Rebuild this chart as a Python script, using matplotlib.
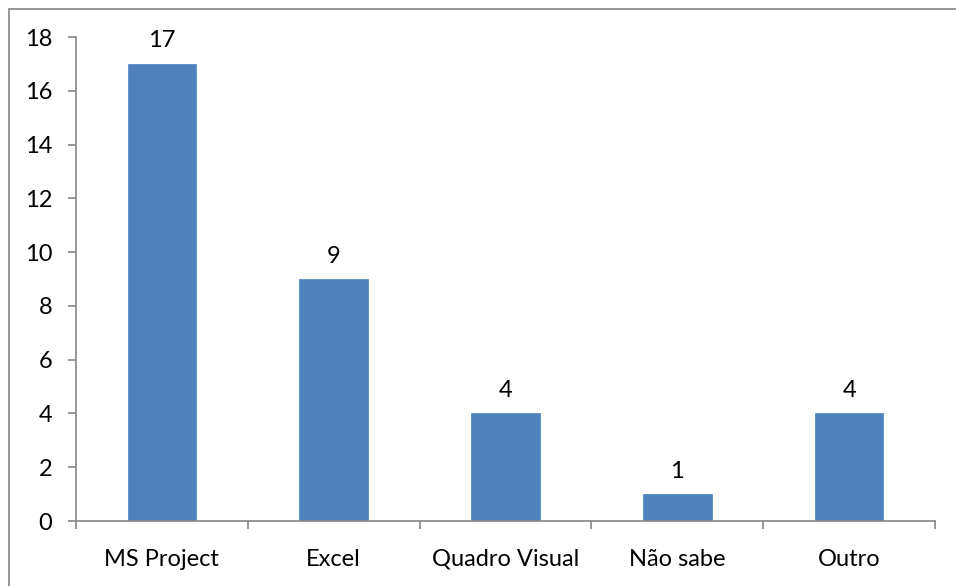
import matplotlib.pyplot as plt
from matplotlib.patches import Rectangle

categories = ["MS Project", "Excel", "Quadro Visual", "Não sabe", "Outro"]
values = [17, 9, 4, 1, 4]
y_ticks = [0, 2, 4, 6, 8, 10, 12, 14, 16, 18]

BAR_COLOR = "#4F81BD"
AXIS_COLOR = "#868686"

plt.rcParams["font.family"] = ["Lato", "DejaVu Sans"]

fig = plt.figure(figsize=(9.56, 5.86), dpi=100)
ax = fig.add_axes([76 / 956, 1 - 521 / 586, (935 - 76) / 956, (521 - 37) / 586])

# outer chart-area frame (right and bottom edges fall outside the image)
fig.patches.append(Rectangle((9 / 956, -0.1), 1.2, 1 - 9 / 586 + 0.1,
                             transform=fig.transFigure, fill=False,
                             edgecolor=AXIS_COLOR, linewidth=1.2))

x = list(range(len(categories)))
ax.bar(x, values, width=0.4, color=BAR_COLOR, edgecolor="#5B8BC4", linewidth=0.6)

for xi, v in zip(x, values):
    ax.annotate(str(v), (xi, v), xytext=(0, 9), textcoords="offset points",
                ha="center", va="bottom", fontsize=17, color="black")

ax.set_xlim(-0.5, len(categories) - 0.5)
ax.set_ylim(0, 18)
ax.set_yticks(y_ticks)
ax.tick_params(axis="y", direction="out", length=6, width=1.2, color=AXIS_COLOR,
               labelsize=17, pad=11)

# category labels centred, tick marks on boundaries
ax.set_xticks(x)
ax.set_xticklabels(categories)
ax.tick_params(axis="x", which="major", length=0, labelsize=17, pad=20)
ax.set_xticks([i - 0.5 for i in range(len(categories) + 1)], minor=True)
ax.tick_params(axis="x", which="minor", direction="out", length=6, width=1.2,
               color=AXIS_COLOR)

for side in ("top", "right"):
    ax.spines[side].set_visible(False)
for side in ("left", "bottom"):
    ax.spines[side].set_color(AXIS_COLOR)
    ax.spines[side].set_linewidth(1.2)

fig.savefig("out.png", dpi=100)
